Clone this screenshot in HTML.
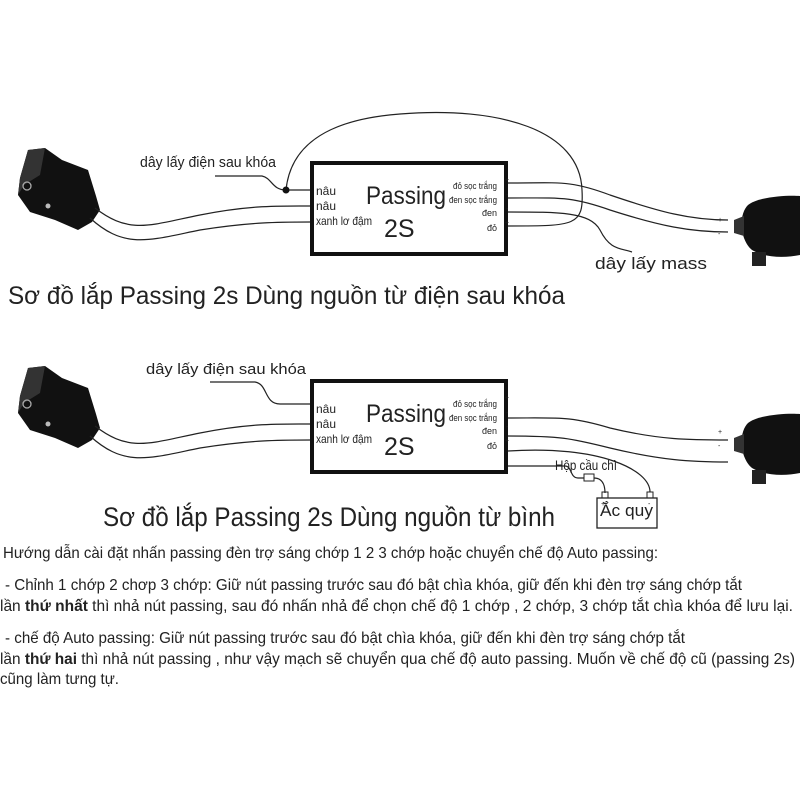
<!DOCTYPE html>
<html><head><meta charset="utf-8"><style>html,body{margin:0;padding:0;background:#fff}svg{display:block}text{font-family:"Liberation Sans",sans-serif;fill:#222}</style></head><body>
<svg width="800" height="800" viewBox="0 0 800 800" xmlns="http://www.w3.org/2000/svg">
<defs>
<g id="sw">
<path d="M28 150 L45 148 L62 160 L88 170 L96 196 L100 210 L92 222 L78 230 L55 220 L30 212 L18 195 L20 178 Z" fill="#111"/>
<path d="M28 150 L45 148 L40 175 L24 185 L18 195 L20 178Z" fill="#333"/>
<circle cx="27" cy="186" r="4" fill="none" stroke="#aaa" stroke-width="1.3"/>
<circle cx="48" cy="206" r="2.5" fill="#bbb"/>
</g>
<g id="lamp">
<path d="M748 205 C760 196 790 195 800 196 L800 255 C785 258 765 258 752 250 C740 240 738 215 748 205 Z" fill="#111"/>
<rect x="752" y="252" width="14" height="14" fill="#222"/>
<path d="M734 220 L744 216 L744 236 L734 233Z" fill="#333"/>
</g>
</defs>
<g fill="none" stroke="#222" stroke-width="1.2">
<use href="#sw" stroke="none"/>
<path d="M95 208 C130 235 150 225 200 215 C250 205 280 206 310 206"/>
<path d="M90 218 C125 250 150 240 200 230 C250 222 280 222 310 222"/>
<path d="M215 176 L262 176 C272 178 272 190 286 190 L310 190"/>
<path d="M286 190 C290 150 320 120 400 114 C500 106 580 130 582 190 C584 226 575 226 508 226"/>
<path d="M508 183 C560 183 570 180 610 195 C660 212 690 220 728 220"/>
<path d="M508 198 C560 198 570 196 610 210 C660 226 690 232 728 232"/>
<path d="M508 212 C560 212 590 212 600 230 C610 250 620 248 632 252"/>
<use href="#sw" y="218" stroke="none"/>
<path d="M95 426 C130 453 150 443 200 433 C250 423 280 424 310 424"/>
<path d="M90 436 C125 468 150 458 200 448 C250 440 280 440 310 440"/>
<path d="M210 382 L255 382 C268 384 264 404 280 404 L310 404"/>
<path d="M508 418 C560 418 570 416 610 428 C660 440 690 440 728 440"/>
<path d="M508 436 C560 436 570 438 610 448 C660 460 690 462 728 462"/>
<path d="M508 451 C600 445 650 470 650 492"/>
<path d="M508 466 L565 466 C572 466 570 478 578 478 L584 478"/>
<path d="M594 478 C604 478 605 488 605 493"/>
<rect x="584" y="474" width="10" height="7" stroke-width="1"/>
<rect x="602" y="492" width="6" height="6" stroke-width="1"/>
<rect x="647" y="492" width="6" height="6" stroke-width="1"/>
<rect x="597" y="498" width="60" height="30" stroke-width="1.3"/>
</g>
<use href="#lamp"/>
<use href="#lamp" y="218"/>
<circle cx="286" cy="190" r="3.5" fill="#111"/>
<rect x="312" y="163" width="194" height="91" fill="none" stroke="#111" stroke-width="4"/>
<rect x="312" y="381" width="194" height="91" fill="none" stroke="#111" stroke-width="4"/>
<g font-size="12">
<text x="316" y="195" textLength="20" lengthAdjust="spacingAndGlyphs">nâu</text><text x="316" y="210" textLength="20" lengthAdjust="spacingAndGlyphs">nâu</text><text x="316" y="225" textLength="56" lengthAdjust="spacingAndGlyphs">xanh lơ đậm</text>
<text x="316" y="413" textLength="20" lengthAdjust="spacingAndGlyphs">nâu</text><text x="316" y="428" textLength="20" lengthAdjust="spacingAndGlyphs">nâu</text><text x="316" y="443" textLength="56" lengthAdjust="spacingAndGlyphs">xanh lơ đậm</text>
</g>
<g font-size="9" text-anchor="end">
<text x="497" y="189" textLength="44" lengthAdjust="spacingAndGlyphs">đỏ sọc trắng</text><text x="497" y="203" textLength="48" lengthAdjust="spacingAndGlyphs">đen sọc trắng</text><text x="497" y="216">đen</text><text x="497" y="231">đỏ</text>
<text x="497" y="407" textLength="44" lengthAdjust="spacingAndGlyphs">đỏ sọc trắng</text><text x="497" y="421" textLength="48" lengthAdjust="spacingAndGlyphs">đen sọc trắng</text><text x="497" y="434">đen</text><text x="497" y="449">đỏ</text>
</g>
<g font-size="7">
<text x="505" y="182">+</text><text x="506" y="197">-</text><text x="506" y="211">-</text><text x="505" y="225">+</text>
<text x="505" y="400">+</text><text x="506" y="415">-</text><text x="506" y="429">-</text><text x="505" y="443">+</text>
<text x="718" y="222">+</text><text x="718" y="236">-</text>
<text x="718" y="434">+</text><text x="718" y="448">-</text>
<text x="601" y="506">+</text><text x="648" y="506">-</text>
</g>
<g font-size="25">
<text x="366" y="204" textLength="80" lengthAdjust="spacingAndGlyphs">Passing</text><text x="384" y="237">2S</text>
<text x="366" y="422" textLength="80" lengthAdjust="spacingAndGlyphs">Passing</text><text x="384" y="455">2S</text>
</g>
<g font-size="15">
<text x="140" y="167" textLength="136" lengthAdjust="spacingAndGlyphs">dây lấy điện sau khóa</text>
<text x="146" y="374" textLength="160" lengthAdjust="spacingAndGlyphs">dây lấy điện sau khóa</text>
<text x="595" y="269" font-size="17" textLength="112" lengthAdjust="spacingAndGlyphs">dây lấy mass</text>
<text x="555" y="470" font-size="14" textLength="62" lengthAdjust="spacingAndGlyphs">Hộp cầu chì</text>
<text x="600" y="516" font-size="17" textLength="53" lengthAdjust="spacingAndGlyphs">Ắc quy</text>
</g>
<text x="8" y="304" font-size="25" textLength="557" lengthAdjust="spacingAndGlyphs">Sơ đồ lắp Passing 2s Dùng nguồn từ điện sau khóa</text>
<text x="103" y="526" font-size="27" textLength="452" lengthAdjust="spacingAndGlyphs">Sơ đồ lắp Passing 2s Dùng nguồn từ bình</text>
<g font-size="16" fill="#333">
<text x="3" y="558" textLength="655" lengthAdjust="spacingAndGlyphs">Hướng dẫn cài đặt nhấn passing đèn trợ sáng chớp 1 2 3 chớp hoặc chuyển chế độ Auto passing:</text>
<text x="5" y="590" textLength="737" lengthAdjust="spacingAndGlyphs">  - Chỉnh 1 chớp 2 chơp 3 chớp: Giữ nút passing trước sau đó bật chìa khóa, giữ đến khi đèn trợ sáng chớp tắt</text>
<text x="0" y="611" textLength="793" lengthAdjust="spacingAndGlyphs">lần <tspan font-weight="bold">thứ nhất</tspan> thì nhả nút passing, sau đó nhấn nhả để chọn chế độ 1 chớp , 2 chớp, 3 chớp tắt chìa khóa để lưu lại.</text>
<text x="5" y="643" textLength="680" lengthAdjust="spacingAndGlyphs">  - chế độ Auto passing: Giữ nút passing trước sau đó bật chìa khóa, giữ đến khi đèn trợ sáng chớp tắt</text>
<text x="0" y="664" textLength="795" lengthAdjust="spacingAndGlyphs">lần <tspan font-weight="bold">thứ hai</tspan> thì nhả nút passing , như vậy mạch sẽ chuyển qua chế độ auto passing. Muốn về chế độ cũ (passing 2s)</text>
<text x="0" y="684" textLength="119" lengthAdjust="spacingAndGlyphs">cũng làm tưng tự.</text>
</g>
</svg>
</body></html>
